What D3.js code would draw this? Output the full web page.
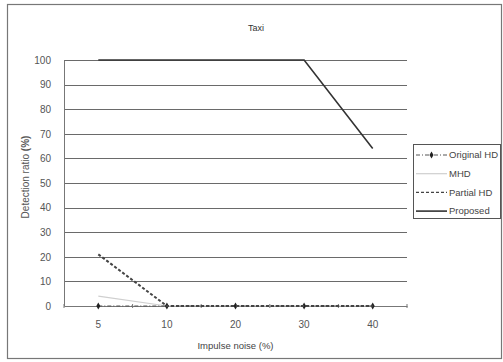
<!DOCTYPE html>
<html>
<head>
<meta charset="utf-8">
<script src="https://cdn.jsdelivr.net/npm/d3@7"></script>
<style>
  body { margin: 0; background: #fff; }
  text { font-family: "Liberation Sans", Arial, sans-serif; }
</style>
</head>
<body>
<div id="chart"></div>
<script>
// chart values
const categories = ["5", "10", "20", "30", "40"];
const originalHD = [0, 0, 0, 0, 0];
const mhd = [4, 0, 0, 0, 0];
const partialHD = [21, 0, 0, 0, 0];
const proposed = [100, 100, 100, 100, 64];
const yTicks = [0, 10, 20, 30, 40, 50, 60, 70, 80, 90, 100];

const width = 503, height = 362;
const margin = {top: 60, right: 96, bottom: 56, left: 64};

const svg = d3.select("#chart").append("svg")
    .attr("width", width)
    .attr("height", height);

// outer frame
svg.append("rect")
    .attr("x", 7.5).attr("y", 4.5)
    .attr("width", 494).attr("height", 354)
    .attr("fill", "#fff")
    .attr("stroke", "#777")
    .attr("stroke-width", 1.2);

var x = d3.scaleBand()
    .domain(categories)
    .range([margin.left, width - margin.right]);

var y = d3.scaleLinear()
    .domain([0, 100])
    .range([height - margin.bottom, margin.top]);

// gridlines
svg.append("g")
  .selectAll("line")
  .data(yTicks.filter(function(d) { return d > 0; }))
  .enter().append("line")
    .attr("x1", margin.left)
    .attr("x2", width - margin.right)
    .attr("y1", function(d) { return Math.round(y(d)) + 0.5; })
    .attr("y2", function(d) { return Math.round(y(d)) + 0.5; })
    .attr("stroke", "#6a6a6a")
    .attr("stroke-width", 1.1);

// y axis
var gy = svg.append("g")
    .attr("transform", "translate(" + margin.left + ",0)")
    .call(d3.axisLeft(y).tickValues(yTicks).tickSize(0).tickPadding(13));
gy.select(".domain").attr("stroke", "#777");
gy.selectAll("text").attr("font-size", 10).attr("fill", "#555");

// x axis, ticks on the band edges like the original
var gx = svg.append("g")
    .attr("transform", "translate(0," + y(0) + ")")
    .call(d3.axisBottom(x).tickSize(0).tickPadding(15));
gx.select(".domain").attr("stroke", "#777");
gx.selectAll("text").attr("font-size", 10).attr("fill", "#555");

var edges = categories.map(function(c) { return x(c); }).concat([x.range()[1]]);
gx.selectAll(".edge")
  .data(edges)
  .enter().append("line")
    .attr("class", "edge")
    .attr("x1", function(d) { return d; })
    .attr("x2", function(d) { return d; })
    .attr("y1", -2).attr("y2", 2)
    .attr("stroke", "#777");

var cx = function(d, i) { return x(categories[i]) + x.bandwidth() / 2; };
var line = d3.line()
    .x(cx)
    .y(function(d) { return y(d); });

svg.append("path")
    .datum(mhd)
    .attr("d", line)
    .attr("fill", "none")
    .attr("stroke", "#cfcfcf")
    .attr("stroke-width", 1.2);

svg.append("path")
    .datum(originalHD)
    .attr("d", line)
    .attr("fill", "none")
    .attr("stroke", "#555")
    .attr("stroke-dasharray", "4,2,1,2");

svg.append("g")
  .selectAll("path")
  .data(originalHD)
  .enter().append("path")
    .attr("d", d3.symbol(d3.symbolDiamond, 14))
    .attr("transform", function(d, i) { return "translate(" + cx(d, i) + "," + y(d) + ")"; })
    .attr("fill", "#222");

svg.append("path")
    .datum(partialHD)
    .attr("d", line)
    .attr("fill", "none")
    .attr("stroke", "#444")
    .attr("stroke-width", 2)
    .attr("stroke-dasharray", "3,2");

svg.append("path")
    .datum(proposed)
    .attr("d", line)
    .attr("fill", "none")
    .attr("stroke", "#333")
    .attr("stroke-width", 1.6);

// titles
svg.append("text")
    .attr("x", 256).attr("y", 31)
    .attr("text-anchor", "middle")
    .attr("font-size", 9)
    .attr("fill", "#333")
    .text("Taxi");

svg.append("text")
    .attr("x", (margin.left + width - margin.right) / 2)
    .attr("y", 349)
    .attr("text-anchor", "middle")
    .attr("font-size", 9.5)
    .attr("fill", "#444")
    .text("Impulse noise (%)");

var yt = svg.append("text")
    .attr("transform", "translate(29,177) rotate(-90)")
    .attr("text-anchor", "middle")
    .attr("font-size", 10)
    .attr("fill", "#555");
yt.append("tspan").text("Detection ratio ");
yt.append("tspan").attr("font-weight", "bold").text("(%)");

// legend
const legendNames = ["Original HD", "MHD", "Partial HD", "Proposed"];
const legendStyle = [
  {stroke: "#555", width: 1, dash: "4,2,1,2", marker: true},
  {stroke: "#cfcfcf", width: 1.2, dash: null},
  {stroke: "#444", width: 1.2, dash: "3,2"},
  {stroke: "#333", width: 1.6, dash: null}
];

svg.append("rect")
    .attr("x", 413.5).attr("y", 144.5)
    .attr("width", 87).attr("height", 74)
    .attr("fill", "#fff")
    .attr("stroke", "#555");

var lg = svg.append("g")
  .selectAll("g")
  .data(legendNames)
  .enter().append("g")
    .attr("transform", function(d, i) { return "translate(416," + (155 + i * 18.7) + ")"; });

lg.append("line")
    .attr("x1", 0).attr("x2", 31)
    .attr("stroke", function(d, i) { return legendStyle[i].stroke; })
    .attr("stroke-width", function(d, i) { return legendStyle[i].width; })
    .attr("stroke-dasharray", function(d, i) { return legendStyle[i].dash; });

lg.filter(function(d, i) { return legendStyle[i].marker; })
  .append("path")
    .attr("d", d3.symbol(d3.symbolDiamond, 14))
    .attr("transform", "translate(15.5,0)")
    .attr("fill", "#222");

lg.append("text")
    .attr("x", 33)
    .attr("dy", "0.35em")
    .attr("font-size", 9.5)
    .attr("fill", "#444")
    .text(function(d) { return d; });
</script>
</body>
</html>
